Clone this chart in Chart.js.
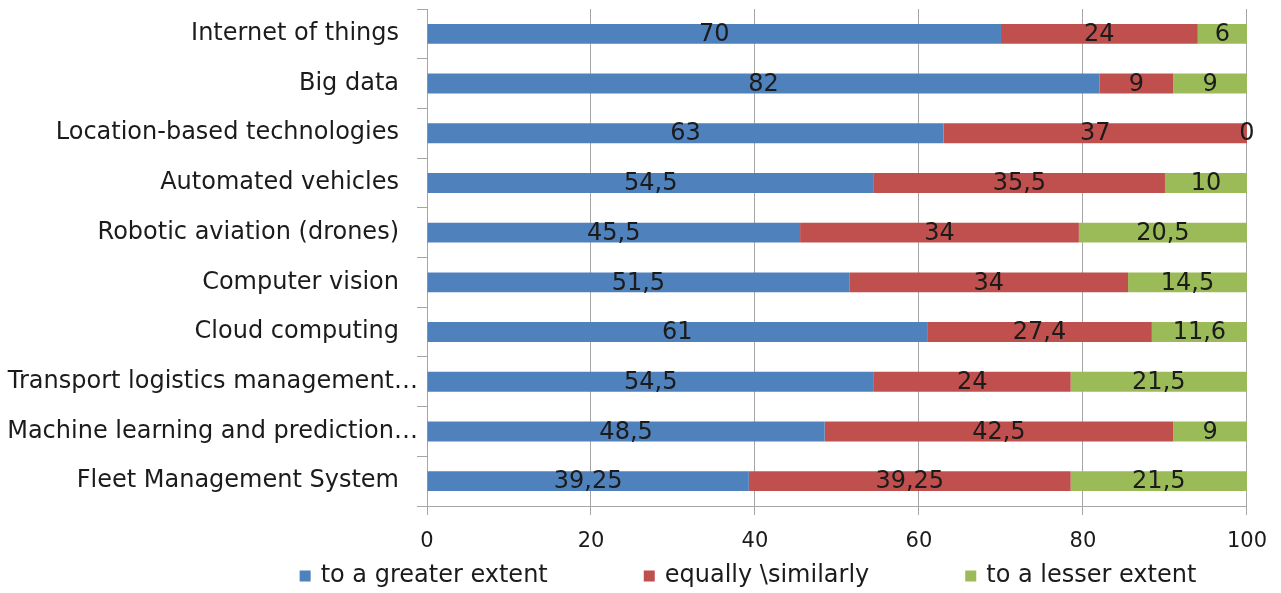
<!DOCTYPE html>
<html>
<head>
<meta charset="utf-8">
<script src="https://cdn.jsdelivr.net/npm/chart.js@4/dist/chart.umd.min.js"></script>
<style>
  html, body { margin: 0; padding: 0; background: #ffffff; }
  #wrap { width: 1281px; height: 593px; position: relative; }
</style>
</head>
<body>
<div id="wrap"><canvas id="chart" width="1281" height="593"></canvas></div>
<script>
// Technologies, listed from top to bottom
const categories = [
  'Internet of things',
  'Big data',
  'Location-based technologies',
  'Automated vehicles',
  'Robotic aviation (drones)',
  'Computer vision',
  'Cloud computing',
  'Transport logistics management…',
  'Machine learning and prediction…',
  'Fleet Management System'
];

// Share of answers (%) per technology
const greaterExtent = [70, 82, 63, 54.5, 45.5, 51.5, 61, 54.5, 48.5, 39.25];
const equallySimilarly = [24, 9, 37, 35.5, 34, 34, 27.4, 24, 42.5, 39.25];
const lesserExtent = [6, 9, 0, 10, 20.5, 14.5, 11.6, 21.5, 9, 21.5];

const seriesNames = ['to a greater extent', 'equally \\similarly', 'to a lesser extent'];
const seriesColors = ['#4F81BD', '#C0504D', '#9BBB59'];

const xTicks = [0, 20, 40, 60, 80, 100];

const FONT = "'DejaVu Sans', 'Open Sans', sans-serif";
const TEXT = '#1b1b1b';
const GRID = '#a6a6a6';

// Category names left of the axis; shortened names run closer to the tick marks
const categoryLabels = {
  id: 'categoryLabels',
  afterDraw(chart) {
    const ctx = chart.ctx;
    const y = chart.scales.y;
    ctx.save();
    ctx.font = '24px ' + FONT;
    ctx.fillStyle = TEXT;
    ctx.textAlign = 'right';
    ctx.textBaseline = 'middle';
    chart.data.labels.forEach((name, i) => {
      const right = name.endsWith('…') ? y.right - 9 : y.right - 28;
      ctx.fillText(name, right, y.getPixelForValue(i));
    });
    ctx.restore();
  }
};

// Value labels centred in every bar segment, decimal comma
const segmentLabels = {
  id: 'segmentLabels',
  afterDatasetsDraw(chart) {
    const ctx = chart.ctx;
    ctx.save();
    ctx.font = '24px ' + FONT;
    ctx.fillStyle = TEXT;
    ctx.textAlign = 'center';
    ctx.textBaseline = 'middle';
    chart.data.datasets.forEach((ds, i) => {
      const meta = chart.getDatasetMeta(i);
      meta.data.forEach((bar, j) => {
        const p = bar.getProps(['x', 'y', 'base'], true);
        const cx = (p.x + p.base) / 2;
        ctx.fillText(String(ds.data[j]).replace('.', ','), cx, p.y + 1);
      });
    });
    ctx.restore();
  }
};

// Legend row under the axis
const bottomLegend = {
  id: 'bottomLegend',
  afterDraw(chart) {
    const ctx = chart.ctx;
    ctx.save();
    ctx.font = '24px ' + FONT;
    ctx.textBaseline = 'middle';
    ctx.textAlign = 'left';
    const box = 11, gapText = 10, gapItem = 96;
    const widths = chart.data.datasets.map(ds => box + gapText + ctx.measureText(ds.label).width);
    const total = widths.reduce((a, b) => a + b, 0) + gapItem * (widths.length - 1);
    let x = 748 - total / 2;
    const y = 576;
    chart.data.datasets.forEach((ds, i) => {
      ctx.fillStyle = ds.backgroundColor;
      ctx.fillRect(x, y - box / 2, box, box);
      ctx.fillStyle = TEXT;
      ctx.fillText(ds.label, x + box + gapText, y);
      x += widths[i] + gapItem;
    });
    ctx.restore();
  }
};

const seriesValues = [greaterExtent, equallySimilarly, lesserExtent];

new Chart(document.getElementById('chart'), {
  type: 'bar',
  data: {
    labels: categories,
    datasets: seriesValues.map((vals, i) => ({
      label: seriesNames[i],
      data: vals,
      backgroundColor: seriesColors[i],
      borderWidth: 0,
      barPercentage: 0.4,
      categoryPercentage: 1
    }))
  },
  options: {
    indexAxis: 'y',
    responsive: false,
    animation: false,
    layout: { padding: { top: 9, right: 34, bottom: 40, left: 0 } },
    plugins: {
      legend: { display: false },
      tooltip: { enabled: false }
    },
    scales: {
      x: {
        stacked: true,
        min: 0,
        max: 100,
        afterBuildTicks(scale) { scale.ticks = xTicks.map(v => ({ value: v })); },
        afterFit(scale) { scale.height = 47; },
        grid: { color: GRID, lineWidth: 1, tickLength: 9, drawTicks: true },
        border: { color: GRID, width: 1 },
        ticks: { color: TEXT, font: { family: FONT, size: 21 }, padding: 14, maxRotation: 0 }
      },
      y: {
        stacked: true,
        afterFit(scale) {
          scale.width = 427;
          scale.paddingTop = 0;
          scale.paddingBottom = 0;
        },
        grid: { drawOnChartArea: false, offset: true, color: GRID, tickLength: 10 },
        border: { color: GRID, width: 1 },
        ticks: { display: false, autoSkip: false }
      }
    }
  },
  plugins: [segmentLabels, categoryLabels, bottomLegend]
});
</script>
</body>
</html>
